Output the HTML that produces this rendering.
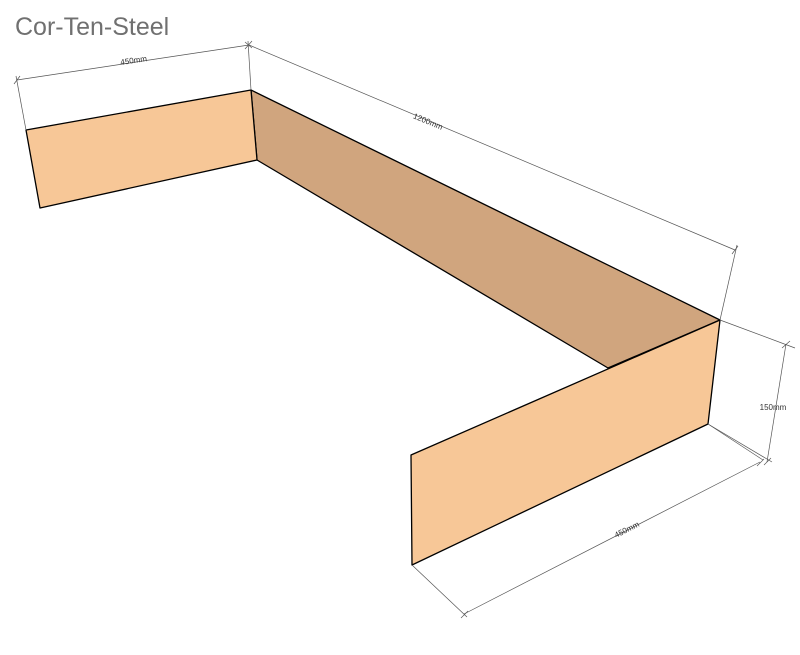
<!DOCTYPE html>
<html><head><style>
body{margin:0;background:#fff;width:800px;height:650px;overflow:hidden}
</style></head><body>
<svg width="800" height="650" viewBox="0 0 800 650" xmlns="http://www.w3.org/2000/svg">
<text x="15" y="35" font-family="Liberation Sans, sans-serif" font-size="25" fill="#707070">Cor-Ten-Steel</text>
<g stroke="#000" stroke-width="1.3" stroke-linejoin="round">
<polygon points="251,90 720,320 608,368 257,160" fill="#D0A57E"/>
<polygon points="26,130 251,90 257,160 40,208" fill="#F7C797"/>
<polygon points="411,455 720,320 708,424 412,565" fill="#F7C797"/>
</g>
<g stroke="#555" stroke-width="0.7" fill="none">
<line x1="26" y1="130" x2="16" y2="76"/>
<line x1="251" y1="90" x2="248" y2="41"/>
<line x1="17" y1="80" x2="249" y2="45"/>
<line x1="249" y1="45" x2="735" y2="250"/>
<line x1="720" y1="320" x2="737" y2="245"/>
<line x1="720" y1="320" x2="795" y2="348"/>
<line x1="708" y1="424" x2="772" y2="462"/>
<line x1="786" y1="344" x2="767" y2="462"/>
<line x1="412" y1="565" x2="467" y2="617"/>
<line x1="708" y1="424" x2="763" y2="460"/>
<line x1="464" y1="614" x2="760" y2="462"/>
<path d="M14,84 L20,76 M245,49 L252,41 M245,42 L252,48 M732,254 L738,246 M782,348 L790,341 M764,465 L771,458 M461,618 L468,611 M757,466 L764,459"/>
</g>
<g font-family="Liberation Sans, sans-serif" font-size="8" fill="#333">
<text x="134" y="63" transform="rotate(-8.5 134 63)" text-anchor="middle">450mm</text>
<text x="427" y="124" transform="rotate(22.5 427 124)" text-anchor="middle">1200mm</text>
<text x="773" y="410" text-anchor="middle">150mm</text>
<text x="628" y="532" transform="rotate(-27 628 532)" text-anchor="middle">450mm</text>
</g>
</svg>
</body></html>
